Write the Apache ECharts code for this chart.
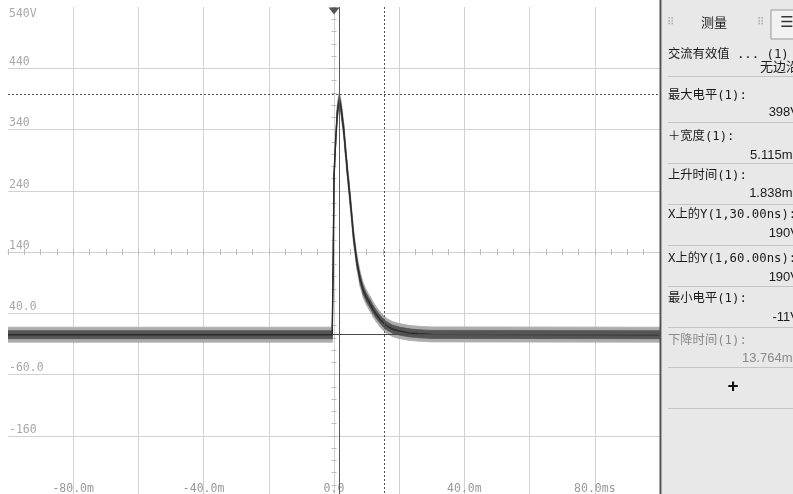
<!DOCTYPE html>
<html><head><meta charset="utf-8">
<script src="https://cdn.jsdelivr.net/npm/echarts@6/dist/echarts.min.js"></script>
<style>html,body{margin:0;padding:0;background:#fff}#c{width:793px;height:494px}</style>
</head><body><div id="c"></div>
<script>
// ---- data ----
const timeMs = [-100, -0.55, -0.3, 0, 0.5, 1.0, 1.4, 1.65, 2.0, 2.5, 3.0, 3.5, 4.0, 4.5, 5.0, 6.0, 7.0, 8.0, 9.0, 10, 11, 12, 13, 14, 15, 16, 18, 20, 23, 26, 30, 100];
const volts  = [5, 5, 100, 262, 322, 365, 384, 388, 381, 361, 338, 308, 278, 250, 224, 165, 124, 96, 77, 65, 56, 46, 38, 31, 25, 20, 14, 11, 8, 6.5, 5.5, 5];
const xLabelValues = [-80, -40, 0, 40, 80];
const xLabelTexts  = ['-80.0m', '-40.0m', '0.0', '40.0m', '80.0ms'];
const yLabelValues = [440, 340, 240, 140, 40, -60, -160];
const yLabelTexts  = ['440', '340', '240', '140', '40.0', '-60.0', '-160'];
const topLabel = '540V';
const peakLevel = 398;     // dotted horizontal cursor
const cursorTime = 15.4;   // dotted vertical cursor
const peakTime = 1.65;     // solid vertical marker
const refLevel = 5;        // solid horizontal reference
const refStart = -0.3;
const triggerTime = 0;
const measLabels = ['交流有效值 ... (1)', '最大电平(1):', '＋宽度(1):', '上升时间(1):', 'X上的Y(1,30.00ns):', 'X上的Y(1,60.00ns):', '最小电平(1):', '下降时间(1):'];
const measValues = ['无边沿', '398V', '5.115ms', '1.838ms', '190V', '190V', '-11V', '13.764ms'];

// ---- chart ----
const chart = echarts.init(document.getElementById('c'), null, {renderer: 'canvas'});
const pts = timeMs.map((t, i) => [t, volts[i]]);
const MONO = "'DejaVu Sans Mono', monospace";
const CJK = "'Noto Sans CJK SC', sans-serif";
const MIXED = "12.3px 'DejaVu Sans Mono', 'Noto Sans CJK SC', monospace";
const GRID = {left: 8, right: 133, top: 7, bottom: -3, outerBoundsMode: 'none'};

function band(half, color) {
  return function (params, api) {
    const i = params.dataIndex;
    if (i >= timeMs.length - 1) return null;
    const a = api.coord([timeMs[i], volts[i]]);
    const b = api.coord([timeMs[i + 1], volts[i + 1]]);
    return {
      type: 'polygon',
      shape: {points: [[a[0], a[1] - half], [b[0], b[1] - half], [b[0], b[1] + half], [a[0], a[1] + half]]},
      style: {fill: color, stroke: color, lineWidth: 0.8}
    };
  };
}

const xLab = v => { const k = xLabelValues.indexOf(v); return k >= 0 ? xLabelTexts[k] : ''; };
const yLab = v => { const k = yLabelValues.indexOf(v); return k >= 0 ? yLabelTexts[k] : ''; };

function crossAxes(gi, inside) {
  return {
    x: {type: 'value', gridIndex: gi, min: -100, max: 100, interval: 20,
        axisLine: {onZero: true, lineStyle: {color: '#d0d0d0'}},
        axisTick: {show: true, inside: inside, length: 3, lineStyle: {color: '#bbb'}},
        minorTick: {show: true, splitNumber: 4, length: 3, lineStyle: {color: '#bbb'}},
        axisLabel: {show: false}, splitLine: {show: false}},
    y: {type: 'value', gridIndex: gi, min: -400, max: 400, interval: 100,
        axisLine: {onZero: true, lineStyle: {color: '#d0d0d0'}},
        axisTick: {show: true, inside: inside, length: 2.5, lineStyle: {color: '#bbb'}},
        minorTick: {show: true, splitNumber: 5, length: 2.5, lineStyle: {color: '#bbb'}},
        axisLabel: {show: false}, splitLine: {show: false}}
  };
}
const c1 = crossAxes(1, false), c2 = crossAxes(2, true);

// ---- side panel (graphics) ----
const panel = [];
const PX = 662;
panel.push({type: 'rect', shape: {x: PX, y: 0, width: 793 - PX, height: 494}, style: {fill: '#e8e8e8'}});
panel.push({type: 'line', shape: {x1: 660.5, y1: 0, x2: 660.5, y2: 494}, style: {stroke: '#505050', lineWidth: 2}});
panel.push({type: 'text', x: 667, y: 22, style: {text: '⠿', fill: '#aaa', font: "10px 'DejaVu Sans'", verticalAlign: 'middle'}});
panel.push({type: 'text', x: 757, y: 22, style: {text: '⠿', fill: '#aaa', font: "10px 'DejaVu Sans'", verticalAlign: 'middle'}});
panel.push({type: 'text', x: 714, y: 22, style: {text: '测量', fill: '#222', font: "13px " + CJK, align: 'center', verticalAlign: 'middle'}});
panel.push({type: 'rect', shape: {x: 771, y: 10, width: 30, height: 29}, style: {fill: '#f2f2f2', stroke: '#999', lineWidth: 1}});
panel.push({type: 'text', x: 787, y: 23, style: {text: '☰', fill: '#333', font: "15px 'DejaVu Sans'", align: 'center', verticalAlign: 'middle'}});
const labelY = [54.5, 95.5, 136.5, 175.5, 214.5, 258.5, 298.5, 340.5];
const valueY = [66, 112, 155, 193, 233, 277, 317, 358];
const sepY = [76, 122, 163, 204, 245, 286, 327, 367, 408];
sepY.forEach(y => panel.push({type: 'line', shape: {x1: 668, y1: y + 0.5, x2: 793, y2: y + 0.5}, style: {stroke: '#c4c4c4', lineWidth: 1}}));
measLabels.forEach((t, i) => {
  const col = i === measLabels.length - 1 ? '#8a8a8a' : '#1a1a1a';
  panel.push({type: 'text', x: 668, y: labelY[i], style: {text: t, fill: col, font: MIXED, verticalAlign: 'middle'}});
});
measValues.forEach((t, i) => {
  const col = i === measValues.length - 1 ? '#8a8a8a' : '#1a1a1a';
  const cjk = /[\u4e00-\u9fff]/.test(t);
  panel.push({type: 'text', x: 799, y: valueY[i], style: {text: t, fill: col, font: cjk ? "13px " + CJK : "13px 'Liberation Sans'", align: 'right', verticalAlign: 'middle'}});
});
panel.push({type: 'text', x: 733, y: 387, style: {text: '+', fill: '#111', font: "bold 19px 'Liberation Sans'", align: 'center', verticalAlign: 'middle'}});
panel.push({type: 'text', x: 9, y: 14, style: {text: topLabel, fill: '#a8a8a8', font: "11.5px " + MONO, verticalAlign: 'middle'}});

const option = {
  animation: false,
  backgroundColor: '#ffffff',
  grid: [Object.assign({}, GRID), Object.assign({}, GRID), Object.assign({}, GRID)],
  xAxis: [
    {type: 'value', gridIndex: 0, min: -100, max: 100, interval: 20,
     axisLine: {show: false}, axisTick: {show: false},
     splitLine: {show: true, showMinLine: false, showMaxLine: false, lineStyle: {color: '#d2d2d2', width: 1}},
     axisLabel: {inside: true, margin: 2, verticalAlign: 'bottom', color: '#999', fontFamily: MONO, fontSize: 11.5, formatter: xLab, showMinLabel: true, showMaxLabel: true}},
    c1.x, c2.x
  ],
  yAxis: [
    {type: 'value', gridIndex: 0, min: -260, max: 540, interval: 100,
     axisLine: {show: false}, axisTick: {show: false},
     splitLine: {show: true, showMinLine: false, showMaxLine: false, lineStyle: {color: '#d2d2d2', width: 1}},
     axisLabel: {inside: true, margin: 1, align: 'left', verticalAlign: 'bottom', color: '#a8a8a8', fontFamily: MONO, fontSize: 11.5, formatter: yLab, showMinLabel: false, showMaxLabel: false}},
    c1.y, c2.y
  ],
  series: [
    {type: 'custom', xAxisIndex: 0, yAxisIndex: 0, data: pts, renderItem: band(7.5, '#acacac'), clip: true, z: 2, silent: true},
    {type: 'custom', xAxisIndex: 0, yAxisIndex: 0, data: pts, renderItem: band(4, '#555555'), clip: true, z: 3, silent: true},
    {type: 'line', xAxisIndex: 0, yAxisIndex: 0, data: pts, showSymbol: false, clip: true, z: 4, silent: true,
     lineStyle: {color: '#2a2a2a', width: 1.4},
     markLine: {silent: true, symbol: 'none', label: {show: false},
       data: [
         {yAxis: peakLevel, lineStyle: {color: '#555', width: 1, type: [2, 2]}},
         {xAxis: cursorTime, lineStyle: {color: '#555', width: 1, type: [2, 2]}},
         {xAxis: peakTime, lineStyle: {color: '#5a5a5a', width: 1, type: 'solid'}},
         [{coord: [refStart, refLevel], lineStyle: {color: '#4a4a4a', width: 1, type: 'solid'}}, {coord: [100, refLevel]}]
       ]},
     markPoint: {silent: true, label: {show: false},
       data: [{coord: [triggerTime, 540], symbol: 'triangle', symbolRotate: 180, symbolSize: [11, 7], symbolOffset: [0, 4], itemStyle: {color: '#555'}}]}
    }
  ],
  graphic: {elements: panel.map(e => Object.assign({z: 100, silent: true}, e))}
};
chart.setOption(option);
</script>
</body></html>
